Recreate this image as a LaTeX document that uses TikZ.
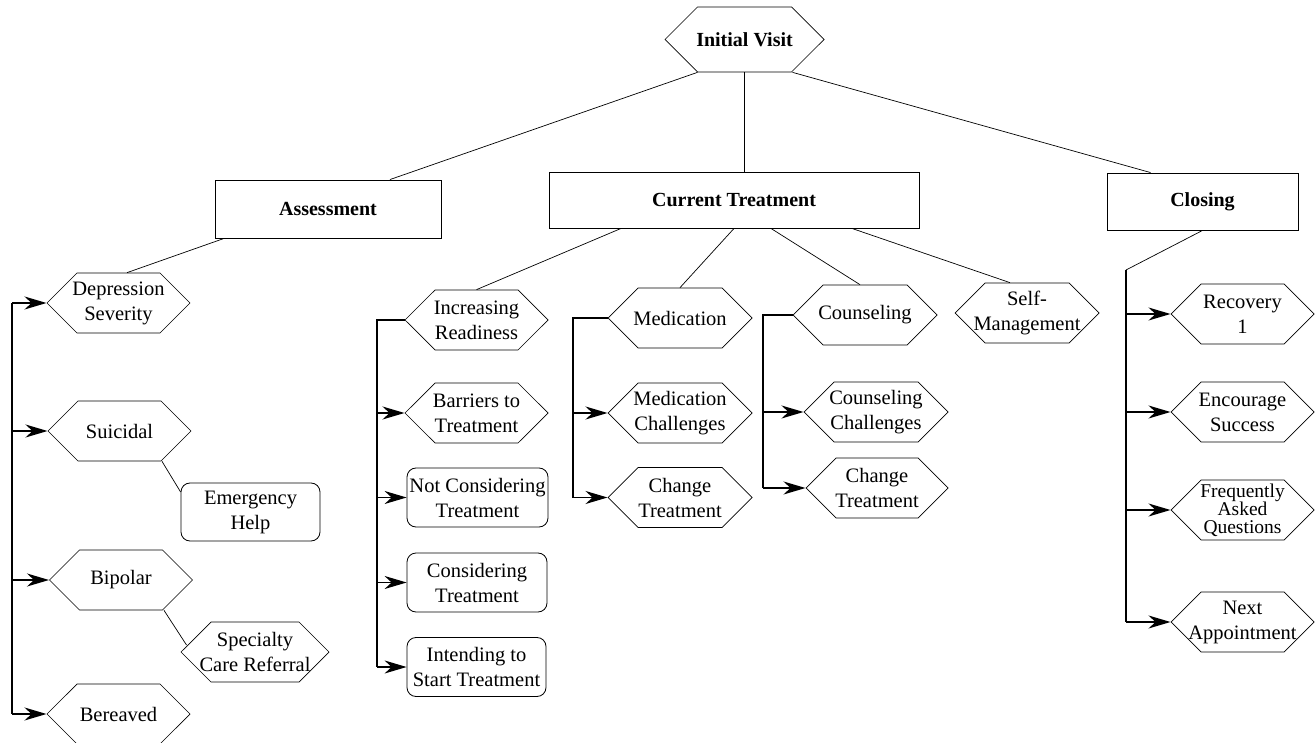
\documentclass[tikz,border=0pt]{standalone}
\usepackage{fontspec}
\setmainfont{Liberation Serif}
\usetikzlibrary{shapes.symbols,arrows.meta}

\begin{document}
\begin{tikzpicture}[x=1pt, y=-1pt, font=\fontsize{20.5}{25}\selectfont,
	hexa/.style={draw, signal, signal to=west and east, signal pointer angle=90,
		minimum width=143pt, minimum height=60pt, inner xsep=-16pt, inner ysep=0pt,
		align=center, line width=0.7pt},
	topic/.style={draw, rectangle, inner sep=0pt, font=\fontsize{20}{25}\selectfont\bfseries, line width=0.9pt},
	leaf/.style={draw, rounded corners=9pt, minimum width=140pt, minimum height=59pt,
		inner sep=0pt, align=center, line width=0.8pt},
	link/.style={line width=0.7pt},
	bus/.style={line width=1.3pt},
	arr/.style={line width=1.3pt, -{Stealth[length=22pt,width=13pt,inset=7pt]}}]
	\useasboundingbox (0,0) rectangle (1315,743);

	% top levels
	\node[hexa, minimum width=159pt, minimum height=65pt, font=\fontsize{20}{25}\selectfont\bfseries] (init) at (744.5,39.5) {Initial Visit};
	\node[topic, minimum width=226pt, minimum height=58pt] (assess) at (328,209) {Assessment};
	\node[topic, minimum width=370pt, minimum height=56pt] (curr) at (734,200) {Current Treatment};
	\node[topic, minimum width=191pt, minimum height=57pt] (closing) at (1202.5,201.5) {Closing};

	% assessment
	\node[hexa] (dep) at (118.5,303) {Depression\\Severity};
	\node[hexa] (suic) at (119.5,431) {Suicidal};
	\node[leaf, minimum width=139pt, minimum height=58pt] (emerg) at (250.5,512) {Emergency\\Help};
	\node[hexa] (bip) at (121,580) {Bipolar};
	\node[hexa, minimum width=148pt] (spec) at (255,652) {Specialty\\Care Referral};
	\node[hexa] (ber) at (118.5,714) {Bereaved};

	% current treatment
	\node[hexa] (incr) at (476.5,320) {Increasing\\Readiness};
	\node[hexa] (barr) at (476.5,413) {Barriers to\\Treatment};
	\node[leaf, minimum width=141pt] (notc) at (477.5,497.5) {Not Considering\\Treatment};
	\node[leaf] (cons) at (477,582.5) {Considering\\Treatment};
	\node[leaf, minimum width=139pt] (intd) at (476.5,667) {Intending to\\Start Treatment};
	\node[hexa, minimum width=144pt] (med) at (680,318) {Medication};
	\node[hexa, minimum width=144pt] (medc) at (680,413) {Medication\\Challenges};
	\node[hexa, minimum width=144pt] (chg1) at (680,497.5) {Change\\Treatment};
	\node[hexa, minimum width=144pt] (coun) at (865,315) {Counseling};
	\node[hexa, minimum width=144pt] (counc) at (876,412) {Counseling\\Challenges};
	\node[hexa, minimum width=142pt] (chg2) at (877,488) {Change\\Treatment};
	\node[hexa, minimum width=144pt] (self) at (1027,313) {Self-\\Management};

	% closing
	\node[hexa] (rec) at (1242.5,314) {Recovery\\1};
	\node[hexa] (enc) at (1242.5,412) {Encourage\\Success};
	\node[hexa, font=\fontsize{19.5}{17.5}\selectfont] (faq) at (1242.5,510) {Frequently\\Asked\\Questions};
	\node[hexa] (next) at (1242.5,622) {Next\\Appointment};

	% tree links
	\draw[link] ([xshift=-47pt]init.south) -- ([xshift=62pt]assess.north);
	\draw[bus] (init.south) -- (init.south |- curr.north);
	\draw[link] ([xshift=48pt]init.south) -- ([xshift=-52pt]closing.north);
	\draw[link] ([xshift=-104pt]assess.south) -- ([xshift=8.5pt]dep.north);
	\draw[link] ([xshift=-113pt]curr.south) -- (incr.north);
	\draw[link] (curr.south) -- (med.north);
	\draw[link] ([xshift=37pt]curr.south) -- ([xshift=-5pt]coun.north);
	\draw[link] ([xshift=118pt]curr.south) -- ([xshift=-17pt]self.north);
	\draw[link] ([xshift=42.5pt]suic.south) -- ([yshift=20pt]emerg.west);
	\draw[link] ([xshift=43pt]bip.south) -- ([xshift=6pt,yshift=7pt]spec.west);

	% assessment bus
	\coordinate (abus) at (12,0);
	\draw[bus] (abus |- dep.west) -- (abus |- ber.west);
	\draw[arr] (abus |- dep.west) -- (dep.west);
	\draw[arr] (abus |- suic.west) -- (suic.west);
	\draw[arr] (abus |- bip.west) -- (bip.west);
	\draw[arr] (abus |- ber.west) -- (ber.west);

	% readiness bus
	\coordinate (rbus) at (377,0);
	\draw[bus] (incr.west) -- (rbus |- incr.west) -- (rbus |- intd.west);
	\draw[arr] (rbus |- barr.west) -- (barr.west);
	\draw[arr] (rbus |- notc.west) -- (notc.west);
	\draw[arr] (rbus |- cons.west) -- (cons.west);
	\draw[arr] (rbus |- intd.west) -- (intd.west);

	% medication bus
	\coordinate (mbus) at (573,0);
	\draw[bus] (med.west) -- (mbus |- med.west) -- (mbus |- chg1.west);
	\draw[arr] (mbus |- medc.west) -- (medc.west);
	\draw[arr] (mbus |- chg1.west) -- (chg1.west);

	% counseling bus
	\coordinate (cbus) at (763,0);
	\draw[bus] (coun.west) -- (cbus |- coun.west) -- (cbus |- chg2.west);
	\draw[arr] (cbus |- counc.west) -- (counc.west);
	\draw[arr] (cbus |- chg2.west) -- (chg2.west);

	% closing bus
	\coordinate (kbus) at (1126,270);
	\draw[link] (closing.south) -- (kbus);
	\draw[bus] (kbus) -- (kbus |- next.west);
	\draw[arr] (kbus |- rec.west) -- (rec.west);
	\draw[arr] (kbus |- enc.west) -- (enc.west);
	\draw[arr] (kbus |- faq.west) -- (faq.west);
	\draw[arr] (kbus |- next.west) -- (next.west);
\end{tikzpicture}
\end{document}
